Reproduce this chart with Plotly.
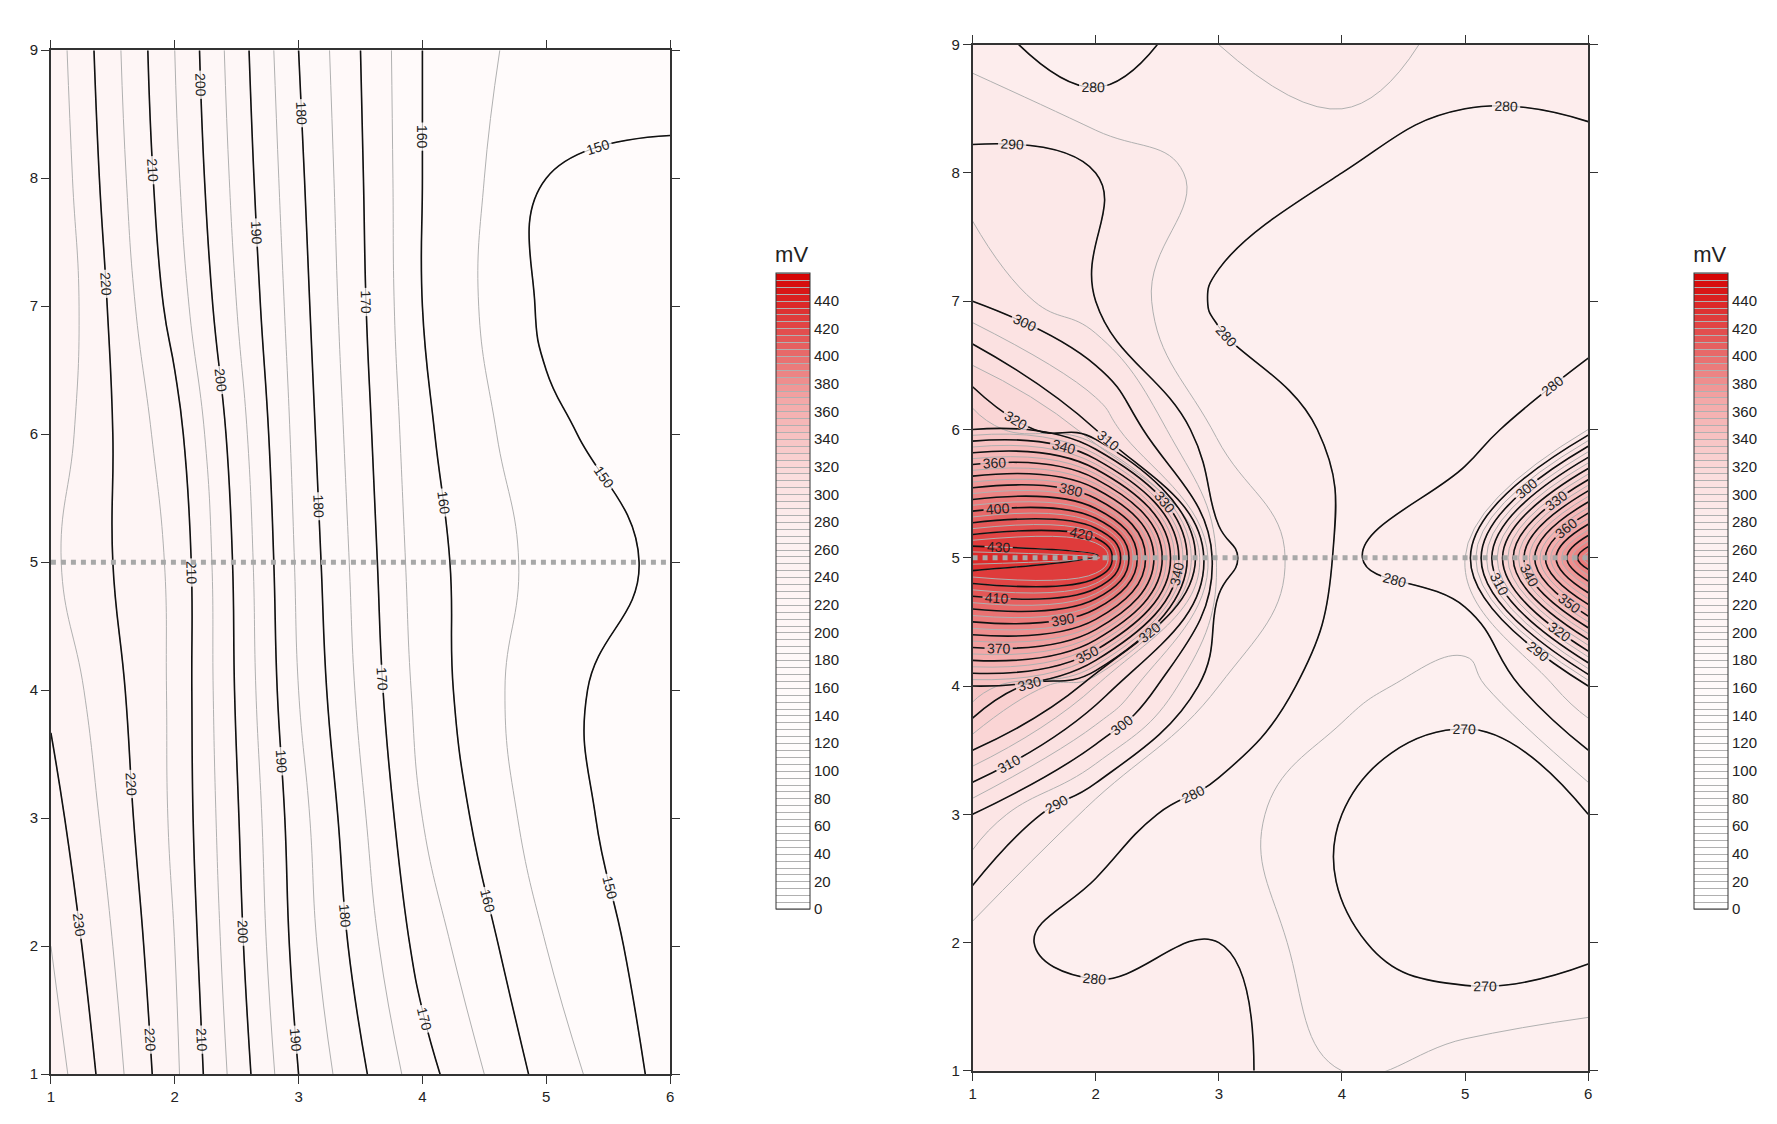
import plotly.graph_objects as go

x_vals = [1, 2, 3, 4, 5, 6]
y_vals = [1, 2, 3, 4, 5, 6, 7, 8, 9]

# Left panel values, rows y=1..9, columns x=1..6
left_z = [
    [238, 216, 190, 172, 158, 148],
    [235, 215, 188, 168, 155, 147],
    [232, 214, 187, 165, 152, 147],
    [229, 214, 185, 163, 151, 148],
    [226, 214, 184, 162, 153, 149],
    [228, 212, 183, 161, 151, 147],
    [230, 208, 182, 160, 149, 146],
    [229, 206, 181, 160, 150, 149],
    [228, 205, 180, 160, 152, 152],
]

# Right panel values
right_z = [
    [280, 285, 282, 275, 278, 280],
    [282, 278, 280, 271, 266, 268],
    [300, 282, 278, 270, 266, 270],
    [340, 315, 285, 277, 272, 290],
    [440, 440, 292, 279, 285, 400],
    [330, 310, 284, 279, 278, 285],
    [300, 290, 279, 278, 277, 276],
    [292, 290, 283, 280, 278, 278],
    [283, 275, 285, 290, 282, 283],
]

cb_ticks = list(range(0, 460, 20))

colorscale = [[0, "#ffffff"], [0.3, "#fffcfc"], [0.6, "#fdf0f0"], [0.68, "#fbdede"],
              [0.8, "#f3a8a8"], [1, "#d40000"]]

fig = go.Figure()

panels = [
    (left_z, "x", "y", 0.426, 0.449),
    (right_z, "x2", "y2", 0.945, 0.968),
]
for z, xa, ya, cbx0, cbx1 in panels:
    fig.add_trace(go.Contour(
        x=x_vals, y=y_vals, z=z, xaxis=xa, yaxis=ya,
        zmin=0, zmax=460, colorscale=colorscale,
        contours=dict(start=0, end=460, size=5, coloring="fill", showlabels=False),
        line=dict(color="#b0b0b0", width=1, smoothing=1.3),
        colorbar=dict(x=cbx0, xanchor="left", len=0.62, y=0.495, yanchor="middle",
                      thickness=34, tickvals=cb_ticks, outlinecolor="#333", outlinewidth=1,
                      tickfont=dict(size=15, family="Liberation Sans"), ticks="",
                      title=dict(text="mV", side="top", font=dict(size=22))),
        showscale=True,
    ))
    fig.add_trace(go.Contour(
        x=x_vals, y=y_vals, z=z, xaxis=xa, yaxis=ya,
        contours=dict(start=0, end=460, size=10, coloring="none",
                      showlabels=True, labelfont=dict(size=14, color="#222")),
        line=dict(color="#111111", width=1.6, smoothing=1.3),
        showscale=False,
    ))
    fig.add_trace(go.Scatter(
        x=[1, 6], y=[5, 5], xaxis=xa, yaxis=ya, mode="lines",
        line=dict(color="#a8a8a8", width=5, dash="dot"), showlegend=False,
    ))

axis_common = dict(showgrid=False, zeroline=False, showline=True, linecolor="#333",
                   linewidth=1.5, mirror="allticks", ticks="outside", ticklen=8,
                   tickcolor="#333", tickfont=dict(size=15, family="Liberation Sans"))
fig.update_layout(
    width=1777, height=1124, paper_bgcolor="white", plot_bgcolor="white",
    margin=dict(l=0, r=0, t=0, b=0), showlegend=False,
    font=dict(family="Liberation Sans", color="#222"),
    xaxis=dict(domain=[0.022, 0.372], range=[1, 6], dtick=1, anchor="y", **axis_common),
    yaxis=dict(domain=[0.045, 0.97], range=[1, 9], dtick=1, anchor="x", **axis_common),
    xaxis2=dict(domain=[0.543, 0.891], range=[1, 6], dtick=1, anchor="y2", **axis_common),
    yaxis2=dict(domain=[0.048, 0.975], range=[1, 9], dtick=1, anchor="x2", **axis_common),
)

fig.write_html("out.html")
